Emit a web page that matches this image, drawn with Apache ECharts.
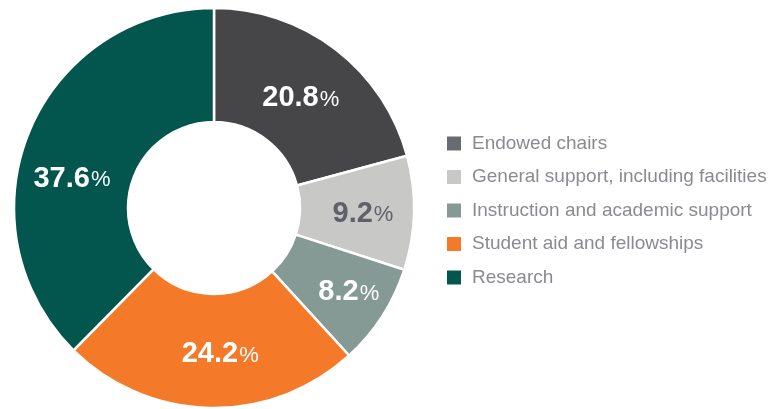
<!DOCTYPE html>
<html>
<head>
<meta charset="utf-8">
<script src="https://cdn.jsdelivr.net/npm/echarts@6/dist/echarts.min.js"></script>
<style>
html, body { margin: 0; padding: 0; background: #fff; }
#chart { width: 783px; height: 409px; }
</style>
</head>
<body>
<div id="chart"></div>
<script>
var categories = ['Endowed chairs', 'General support, including facilities', 'Instruction and academic support', 'Student aid and fellowships', 'Research'];
var shares = [20.8, 9.2, 8.2, 24.2, 37.6];
var sliceColors = ['#464547', '#c8c8c6', '#869a95', '#f47a29', '#02564d'];
var legendColors = ['#696a73', '#c8c8c6', '#869a95', '#f47a29', '#02564d'];
var labelColors = ['#fff', '#5f6068', '#fff', '#fff', '#fff'];
// label nudges (px) to match the hand placed labels of the original
var labelOffsets = [[-2, 6], [3, 2], [12, 5], [9, 0], [-7, 26]];

var myChart = echarts.init(document.getElementById('chart'));
var pieData = [];
var legendData = [];
for (var i = 0; i < categories.length; i++) {
	pieData.push({
		name : categories[i],
		value : shares[i],
		itemStyle : { color : sliceColors[i] },
		label : {
			offset : labelOffsets[i],
			rich : {
				num : { color : labelColors[i], fontSize : 29, fontWeight : 'bold', fontFamily : 'Liberation Sans' },
				pct : { color : labelColors[i], fontSize : 22, fontFamily : 'Liberation Sans', padding : [3, 0, 0, 1] }
			}
		}
	});
	legendData.push({ name : categories[i], itemStyle : { color : legendColors[i] } });
}

var option = {
	animation : false,
	backgroundColor : '#fff',
	legend : {
		orient : 'vertical',
		left : 445,
		top : 134,
		padding : 0,
		icon : 'rect',
		itemWidth : 16,
		itemHeight : 16,
		itemGap : 14.5,
		textStyle : { color : '#8a8a90', fontSize : 19, fontFamily : 'Liberation Sans', padding : [0, 0, 0, 5] },
		data : legendData
	},
	series : [ {
		type : 'pie',
		center : [214, 208],
		radius : [86, 200],
		startAngle : 90,
		clockwise : true,
		avoidLabelOverlap : false,
		itemStyle : { borderColor : '#fff', borderWidth : 2.5 },
		label : {
			show : true,
			position : 'inside',
			formatter : function(p) {
				return '{num|' + p.value.toFixed(1) + '}{pct|%}';
			}
		},
		labelLine : { show : false },
		emphasis : { disabled : true },
		data : pieData
	} ]
};
myChart.setOption(option);
</script>
</body>
</html>
